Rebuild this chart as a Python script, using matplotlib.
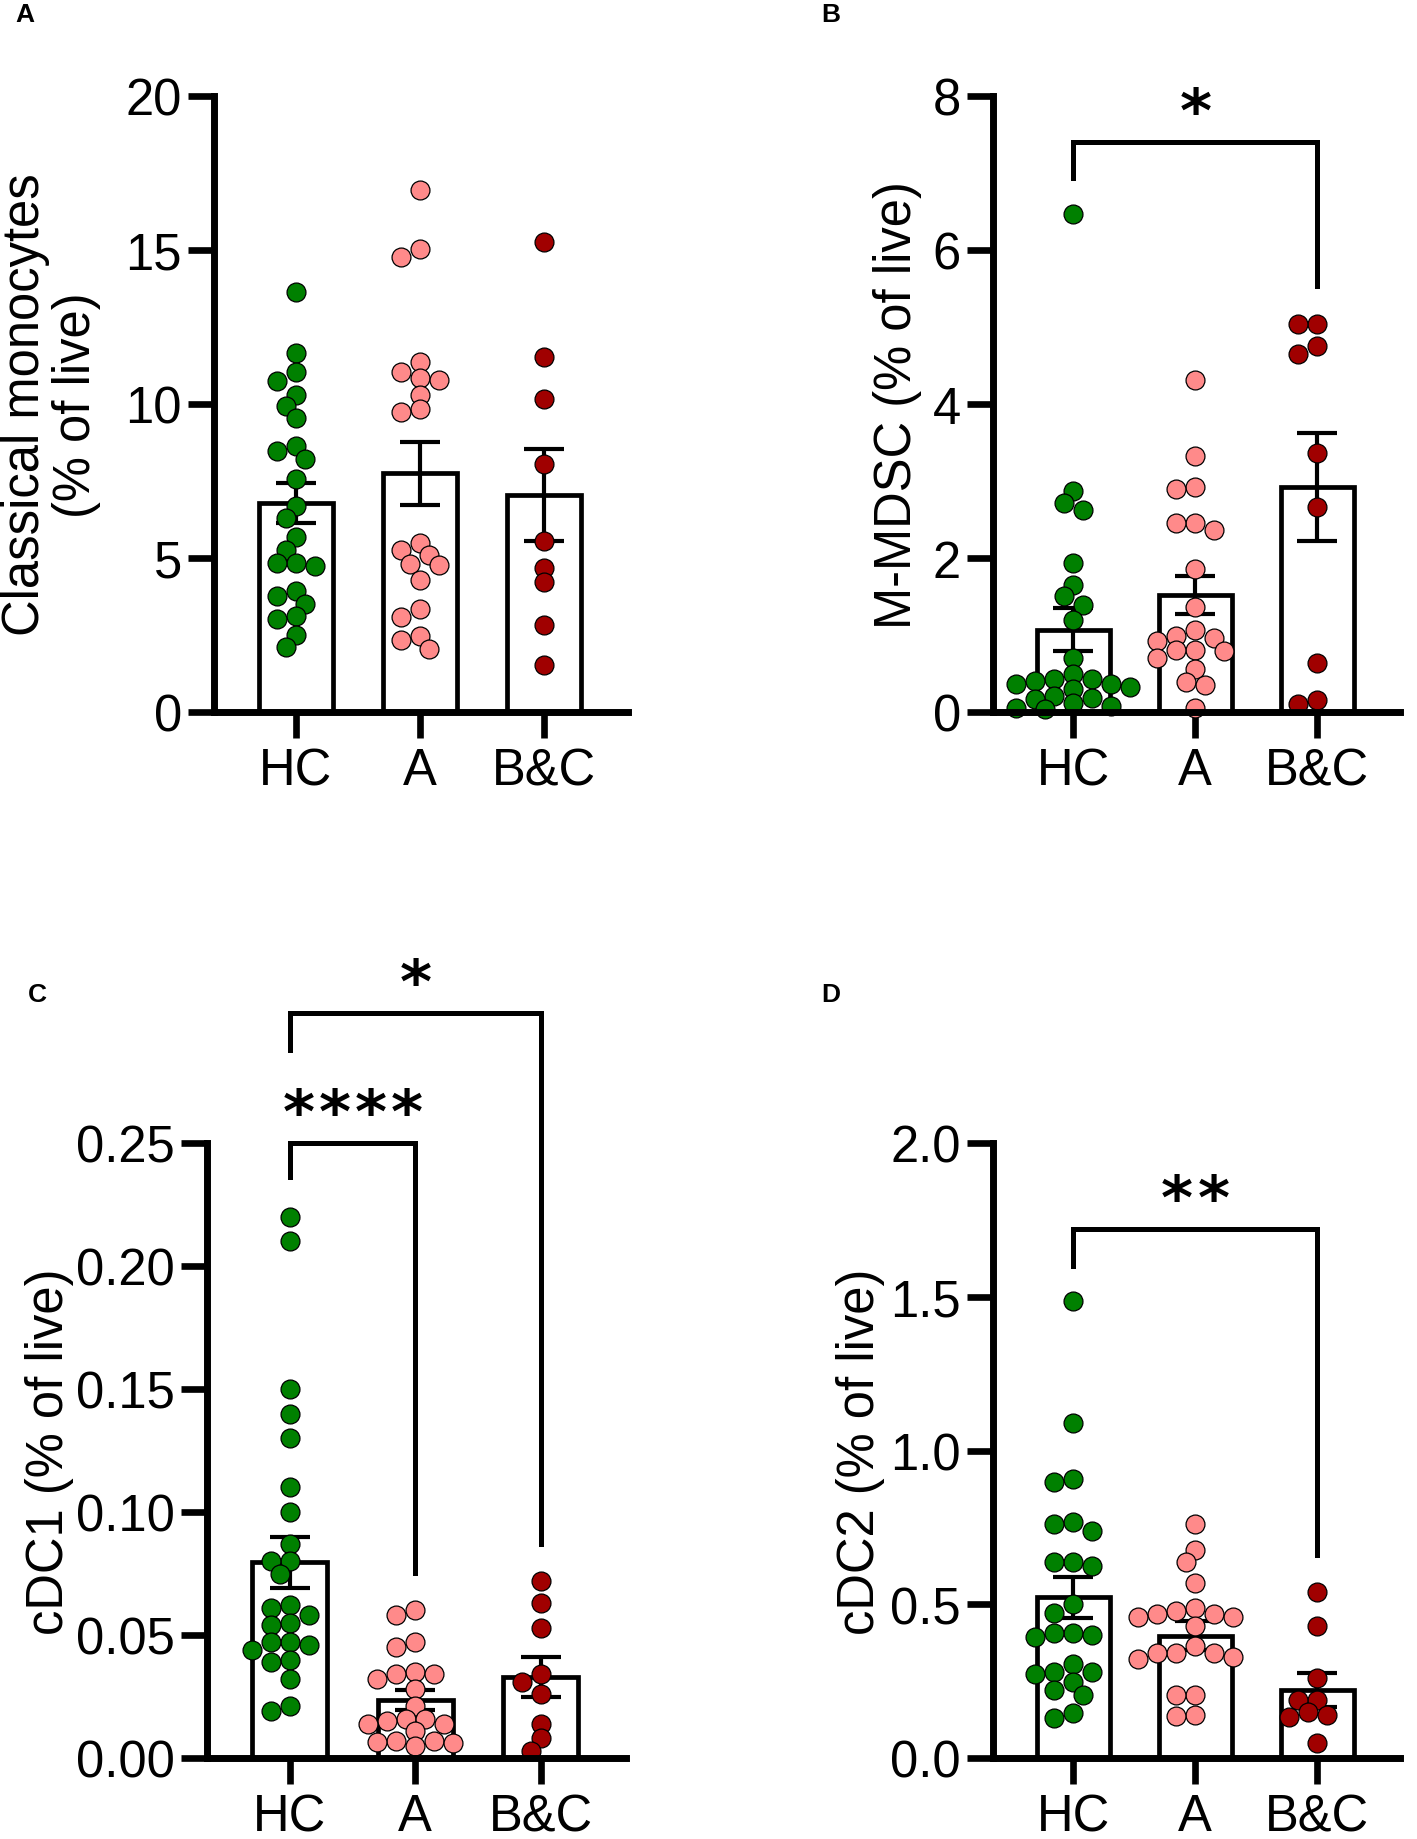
import numpy as np
import matplotlib
matplotlib.use("Agg")
import matplotlib.pyplot as plt

plt.rcParams['font.family'] = ['Liberation Sans', 'DejaVu Sans']

groups = ["HC", "A", "B&C"]
colors = ["#008000", "#ff8a8a", "#a00000"]

# panel A - classical monocytes
a_hc = [13.65, 11.66, 11.05, 10.75, 10.28, 9.95, 9.55, 8.65, 8.47, 8.22, 7.56, 6.68, 6.30,
        5.68, 5.27, 4.85, 4.85, 4.73, 3.94, 3.77, 3.52, 3.11, 3.02, 2.49, 2.11]
a_a = [16.94, 15.03, 14.77, 11.36, 11.05, 10.83, 10.78, 10.28, 9.83, 9.75, 5.48, 5.27, 5.10,
       4.80, 4.77, 4.30, 3.36, 3.07, 2.46, 2.33, 2.03]
a_bc = [15.25, 11.54, 10.17, 8.04, 5.55, 4.68, 4.22, 2.82, 1.53]
a_mean = [6.80, 7.75, 7.05]
a_sem = [0.65, 1.02, 1.50]

# panel B - M-MDSC
b_hc = [6.47, 2.87, 2.72, 2.62, 1.94, 1.65, 1.51, 1.39, 1.19, 0.70, 0.50, 0.43, 0.43, 0.40,
        0.36, 0.36, 0.33, 0.30, 0.21, 0.18, 0.17, 0.12, 0.08, 0.05, 0.04]
b_a = [4.31, 3.32, 2.92, 2.90, 2.46, 2.46, 2.36, 1.86, 1.36, 1.06, 0.99, 0.96, 0.92, 0.80,
       0.80, 0.79, 0.70, 0.56, 0.39, 0.35, 0.05]
b_bc = [5.04, 5.04, 4.75, 4.65, 3.37, 2.66, 0.63, 0.15, 0.10]
b_mean = [1.07, 1.52, 2.92]
b_sem = [0.28, 0.25, 0.70]

# panel C - cDC1
c_hc = [0.220, 0.210, 0.150, 0.140, 0.130, 0.110, 0.100, 0.087, 0.080, 0.080, 0.075, 0.062,
        0.061, 0.058, 0.055, 0.054, 0.047, 0.047, 0.046, 0.044, 0.040, 0.039, 0.032, 0.021, 0.019]
c_a = [0.060, 0.058, 0.047, 0.045, 0.035, 0.034, 0.034, 0.032, 0.028, 0.021, 0.016, 0.016,
       0.015, 0.014, 0.014, 0.011, 0.007, 0.007, 0.0065, 0.006, 0.005]
c_bc = [0.072, 0.063, 0.053, 0.034, 0.031, 0.026, 0.014, 0.008, 0.003]
c_mean = [0.0795, 0.0235, 0.0328]
c_sem = [0.0105, 0.0040, 0.0082]

# panel D - cDC2
d_hc = [1.485, 1.088, 0.908, 0.897, 0.769, 0.760, 0.737, 0.639, 0.639, 0.626, 0.502, 0.473,
        0.406, 0.406, 0.401, 0.393, 0.305, 0.279, 0.279, 0.273, 0.248, 0.221, 0.206, 0.145, 0.130]
d_a = [0.760, 0.677, 0.639, 0.569, 0.489, 0.477, 0.468, 0.468, 0.458, 0.458, 0.429, 0.365,
       0.343, 0.343, 0.340, 0.330, 0.321, 0.206, 0.206, 0.139, 0.135]
d_bc = [0.540, 0.429, 0.260, 0.187, 0.187, 0.149, 0.139, 0.134, 0.048]
d_mean = [0.522, 0.398, 0.222]
d_sem = [0.068, 0.046, 0.055]

# significance brackets: (from, to, top, left leg end, right leg end, stars)
b_sig = [(0, 2, 7.40, 6.93, 5.53, "*")]
c_sig = [(0, 1, 0.250, 0.236, 0.0754, "****"),
         (0, 2, 0.303, 0.288, 0.087, "*")]
d_sig = [(0, 2, 1.72, 1.60, 0.66, "**")]

panels = [
    dict(letter="A", points=[a_hc, a_a, a_bc], mean=a_mean, sem=a_sem,
         ylim=(0, 20), yticks=[0, 5, 10, 15, 20], fmt="{:g}",
         ylabel="Classical monocytes\n(% of live)", rect=[214, 97, 628, 713],
         labx=-0.394, letter_xy=(25, 15), sig=[]),
    dict(letter="B", points=[b_hc, b_a, b_bc], mean=b_mean, sem=b_sem,
         ylim=(0, 8), yticks=[0, 2, 4, 6, 8], fmt="{:g}",
         ylabel="M-MDSC (% of live)", rect=[993, 97, 1400, 713],
         labx=-0.235, letter_xy=(831, 15), sig=b_sig),
    dict(letter="C", points=[c_hc, c_a, c_bc], mean=c_mean, sem=c_sem,
         ylim=(0, 0.25), yticks=[0, 0.05, 0.10, 0.15, 0.20, 0.25], fmt="{:.2f}",
         ylabel="cDC1 (% of live)", rect=[207, 1144, 626, 1759],
         labx=-0.375, letter_xy=(37, 995), sig=c_sig),
    dict(letter="D", points=[d_hc, d_a, d_bc], mean=d_mean, sem=d_sem,
         ylim=(0, 2.0), yticks=[0, 0.5, 1.0, 1.5, 2.0], fmt="{:.1f}",
         ylabel="cDC2 (% of live)", rect=[993, 1144, 1400, 1759],
         labx=-0.325, letter_xy=(831, 995), sig=d_sig),
]

W, H = 1417, 1840
fig = plt.figure(figsize=(W / 100, H / 100), dpi=100)

LW_AX = 5.0
LW_BAR = 3.4
LW_SIG = 3.6
DOT_PX = 19
STAR_GAP_PT = 26


def swarm(ax, x0, vals, d_px=DOT_PX, min_frac=0.72):
    # simple greedy beeswarm in pixel space, steps of half a dot
    vals = np.asarray(vals, float)
    tr = ax.transData
    ypx = tr.transform(np.column_stack([np.full(len(vals), x0), vals]))[:, 1]
    px_per_x = tr.transform((1, 0))[0] - tr.transform((0, 0))[0]
    step = d_px / 2
    placed = []
    offs = np.zeros(len(vals))
    for i in np.argsort(-vals):
        for k in [0, -1, 1, -2, 2, -3, 3, -4, 4, -5, 5, -6, 6]:
            xp = k * step
            if all((xp - px) ** 2 + (ypx[i] - py) ** 2 >= (min_frac * d_px) ** 2
                   for px, py in placed):
                break
        placed.append((xp, ypx[i]))
        offs[i] = xp
    return x0 + offs / px_per_x


for p in panels:
    l, t, r, b = p["rect"]
    ax = fig.add_axes([l / W, 1 - b / H, (r - l) / W, (b - t) / H])
    x = np.arange(len(groups))
    ax.set_xlim(-0.66, 2.68)
    ax.set_ylim(*p["ylim"])

    ax.bar(x, p["mean"], width=0.6, color="white", edgecolor="black",
           linewidth=LW_BAR, zorder=1)
    ax.errorbar(x, p["mean"], yerr=p["sem"], fmt="none", ecolor="black",
                elinewidth=3.0, capsize=14.5, capthick=3.0, zorder=2)
    for i, vals in enumerate(p["points"]):
        xs = swarm(ax, i, vals)
        ax.scatter(xs, vals, s=185, color=colors[i], edgecolor="black",
                   linewidth=0.9, zorder=3, clip_on=False)

    for side in ["top", "right"]:
        ax.spines[side].set_visible(False)
    for side in ["left", "bottom"]:
        ax.spines[side].set_linewidth(LW_AX)
        ax.spines[side].set_capstyle("projecting")
        ax.spines[side].set_zorder(5)

    ax.set_xticks(x)
    ax.set_xticklabels(groups)
    ax.set_yticks(p["yticks"])
    ax.set_yticklabels([p["fmt"].format(v) for v in p["yticks"]])
    ax.tick_params(axis="both", direction="out", length=18.7, width=4.8,
                   labelsize=36.5)
    ax.tick_params(axis="y", pad=4.3)
    ax.tick_params(axis="x", pad=6)

    ax.set_ylabel(p["ylabel"], fontsize=36.5, linespacing=1.05)
    ax.yaxis.label.set_va("center")
    ax.yaxis.set_label_coords(p["labx"], 0.5)

    for x1, x2, top, e1, e2, stars in p["sig"]:
        ax.plot([x1, x1, x2, x2], [e1, top, top, e2], color="black", lw=LW_SIG,
                solid_joinstyle="miter", clip_on=False, zorder=4)
        n = len(stars)
        for k in range(n):
            ax.annotate("*", xy=((x1 + x2) / 2, top),
                        xytext=((k - (n - 1) / 2) * STAR_GAP_PT, -1.5),
                        textcoords="offset points", ha="center", va="bottom",
                        fontsize=44, fontweight="bold", family="DejaVu Sans",
                        annotation_clip=False)

    lx, ly = p["letter_xy"]
    fig.text(lx / W, 1 - ly / H, p["letter"], ha="center", va="center",
             fontsize=19, fontweight="bold")

fig.savefig("out.png", dpi=100)
